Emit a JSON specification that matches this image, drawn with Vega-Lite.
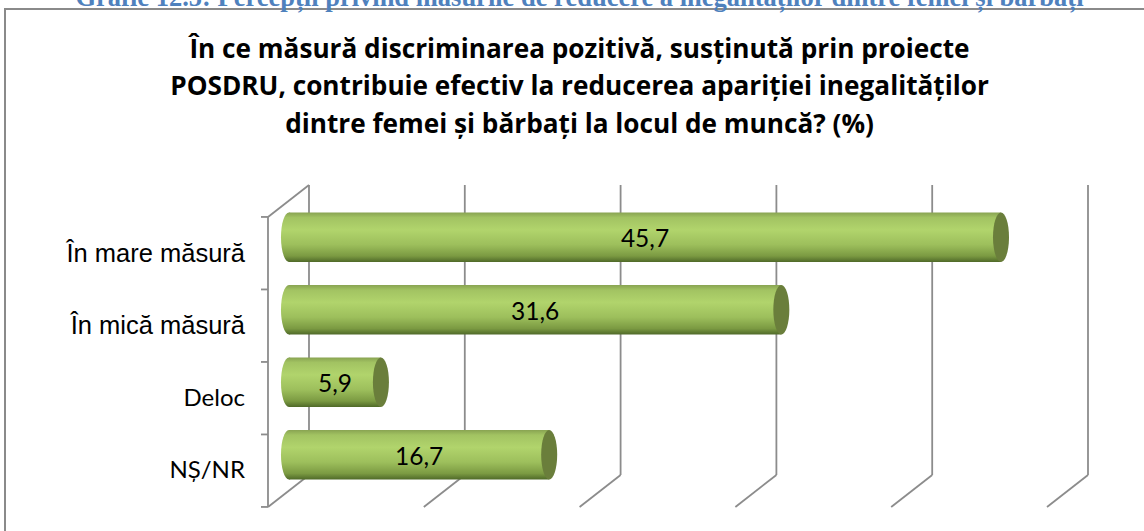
{
  "$schema": "https://vega.github.io/schema/vega-lite/v6.json",
  "width": 1149,
  "height": 532,
  "autosize": {"type": "none"},
  "padding": {"left": 5, "top": 9, "right": -10, "bottom": -10},
  "background": "white",
  "config": {
    "view": {"stroke": "#8a8a8a", "strokeWidth": 2},
    "locale": {"number": {"decimal": ",", "thousands": ".", "grouping": [3], "currency": ["", ""]}}
  },
  "title": {
    "text": "Grafic 12.5: Percepții privind măsurile de reducere a inegalităților dintre femei și bărbați",
    "subtitle": [
      "În ce măsură discriminarea pozitivă, susținută  prin proiecte",
      "POSDRU, contribuie efectiv la reducerea apariției inegalităților",
      "dintre femei și bărbați la locul de muncă? (%)"
    ],
    "anchor": "middle",
    "frame": "group",
    "font": "Liberation Serif",
    "fontSize": 26.5,
    "fontWeight": "bold",
    "color": "#4F81BD",
    "subtitleFont": "Open Sans",
    "subtitleFontSize": 26.2,
    "subtitleFontWeight": "bold",
    "subtitleColor": "#000000",
    "subtitleLineHeight": 37.5,
    "subtitlePadding": 25,
    "offset": -129
  },
  "datasets": {
    "answers": [
      {"raspuns": "În mare măsură", "procent": 45.7},
      {"raspuns": "În mică măsură", "procent": 31.6},
      {"raspuns": "Deloc", "procent": 5.9},
      {"raspuns": "NȘ/NR", "procent": 16.7}
    ],
    "grid": [{"v": 0}, {"v": 10}, {"v": 20}, {"v": 30}, {"v": 40}, {"v": 50}]
  },
  "layer": [
    {
      "data": {"name": "grid"},
      "mark": {"type": "rule", "color": "#8c8c8c", "strokeWidth": 1.8, "xOffset": 20, "yOffset": -52.3, "y2Offset": 20.2},
      "encoding": {
        "x": {"field": "v", "type": "quantitative", "axis": null,
              "scale": {"domain": [-18.228, 55.52], "nice": false, "zero": false}},
        "y": {"datum": "În mare măsură", "type": "nominal", "axis": null},
        "y2": {"datum": "NȘ/NR"}
      }
    },
    {
      "data": {"name": "grid"},
      "mark": {"type": "rule", "color": "#8c8c8c", "strokeWidth": 1.8, "xOffset": 20, "x2Offset": -21, "yOffset": 20.2, "y2Offset": 52.2},
      "encoding": {
        "x": {"field": "v", "type": "quantitative", "axis": null},
        "x2": {"field": "v"},
        "y": {"datum": "NȘ/NR", "type": "nominal", "axis": null},
        "y2": {"datum": "NȘ/NR"}
      }
    },
    {
      "data": {"values": [{}]},
      "mark": {"type": "rule", "color": "#8c8c8c", "strokeWidth": 1.8, "xOffset": -21, "yOffset": -20.3, "y2Offset": 52.2},
      "encoding": {
        "x": {"datum": 0, "type": "quantitative", "axis": null},
        "y": {"datum": "În mare măsură", "type": "nominal", "axis": null},
        "y2": {"datum": "NȘ/NR"}
      }
    },
    {
      "data": {"values": [{}]},
      "mark": {"type": "rule", "color": "#8c8c8c", "strokeWidth": 1.8, "xOffset": -21, "x2Offset": 20, "yOffset": -20.3, "y2Offset": -52.3},
      "encoding": {
        "x": {"datum": 0, "type": "quantitative", "axis": null},
        "x2": {"datum": 0},
        "y": {"datum": "În mare măsură", "type": "nominal", "axis": null},
        "y2": {"datum": "În mare măsură"}
      }
    },
    {
      "data": {"name": "answers"},
      "mark": {"type": "rule", "color": "#8c8c8c", "strokeWidth": 1.8, "xOffset": -28, "x2Offset": -21, "yOffset": -20.3},
      "encoding": {
        "x": {"datum": 0, "type": "quantitative", "axis": null},
        "x2": {"datum": 0},
        "y": {"field": "raspuns", "type": "nominal", "axis": null}
      }
    },
    {
      "data": {"values": [{}]},
      "mark": {"type": "rule", "color": "#8c8c8c", "strokeWidth": 1.8, "xOffset": -28, "x2Offset": -21, "yOffset": 52.2},
      "encoding": {
        "x": {"datum": 0, "type": "quantitative", "axis": null},
        "x2": {"datum": 0},
        "y": {"datum": "NȘ/NR", "type": "nominal", "axis": null}
      }
    },
    {
      "data": {"name": "answers"},
      "transform": [{"filter": "indexof(datum.raspuns, 'măsură') >= 0"}],
      "mark": {"type": "text", "font": "Liberation Sans", "fontSize": 25.5, "color": "#000000", "align": "right", "baseline": "middle", "xOffset": -44, "yOffset": 16.5},
      "encoding": {
        "x": {"datum": 0, "type": "quantitative", "axis": null},
        "y": {"field": "raspuns", "type": "nominal", "axis": null},
        "text": {"field": "raspuns", "type": "nominal"}
      }
    },
    {
      "data": {"name": "answers"},
      "transform": [{"filter": "indexof(datum.raspuns, 'măsură') < 0"}],
      "mark": {"type": "text", "font": "Lato", "fontSize": 24, "color": "#000000", "align": "right", "baseline": "middle", "xOffset": -44, "yOffset": 16.5},
      "encoding": {
        "x": {"datum": 0, "type": "quantitative", "axis": null},
        "y": {"field": "raspuns", "type": "nominal", "axis": null},
        "text": {"field": "raspuns", "type": "nominal"}
      }
    },
    {
      "data": {"name": "answers"},
      "mark": {
        "type": "point", "filled": true, "opacity": 1, "strokeWidth": 0, "size": 2430,
        "shape": "M 0 -1 C 0.1795 -1 0.325 -0.5523 0.325 0 C 0.325 0.5523 0.1795 1 0 1 C -0.1795 1 -0.325 0.5523 -0.325 0 C -0.325 -0.5523 -0.1795 -1 0 -1 Z",
        "fill": {"gradient": "linear", "x1": 0, "y1": 0, "x2": 0, "y2": 1,
                 "stops": [
                   {"offset": 0, "color": "#89A452"},
                   {"offset": 0.1, "color": "#A2C362"},
                   {"offset": 0.35, "color": "#B1D46C"},
                   {"offset": 0.65, "color": "#9DBF5C"},
                   {"offset": 0.88, "color": "#7B9A42"},
                   {"offset": 1, "color": "#506A29"}
                 ]}
      },
      "encoding": {
        "x": {"datum": 0, "type": "quantitative", "axis": null},
        "y": {"field": "raspuns", "type": "nominal", "axis": null}
      }
    },
    {
      "data": {"name": "answers"},
      "mark": {
        "type": "bar",
        "fill": {"gradient": "linear", "x1": 0, "y1": 0, "x2": 0, "y2": 1,
                 "stops": [
                   {"offset": 0, "color": "#89A452"},
                   {"offset": 0.1, "color": "#A2C362"},
                   {"offset": 0.35, "color": "#B1D46C"},
                   {"offset": 0.65, "color": "#9DBF5C"},
                   {"offset": 0.88, "color": "#7B9A42"},
                   {"offset": 1, "color": "#506A29"}
                 ]}
      },
      "encoding": {
        "x": {"field": "procent", "type": "quantitative", "axis": null},
        "y": {
          "field": "raspuns", "type": "nominal", "sort": null, "axis": null,
          "scale": {
            "domain": ["În mare măsură", "În mică măsură", "Deloc", "NȘ/NR"],
            "range": [192, 482],
            "paddingInner": 0.32, "paddingOuter": 0.16, "round": false
          }
        }
      }
    },
    {
      "data": {"name": "answers"},
      "mark": {
        "type": "point", "filled": true, "opacity": 1, "strokeWidth": 0, "size": 2430, "fill": "#6A7E3B",
        "shape": "M 0 -1 C 0.1795 -1 0.325 -0.5523 0.325 0 C 0.325 0.5523 0.1795 1 0 1 C -0.1795 1 -0.325 0.5523 -0.325 0 C -0.325 -0.5523 -0.1795 -1 0 -1 Z"
      },
      "encoding": {
        "x": {"field": "procent", "type": "quantitative", "axis": null},
        "y": {"field": "raspuns", "type": "nominal", "axis": null}
      }
    },
    {
      "data": {"name": "answers"},
      "mark": {"type": "text", "font": "Lato", "fontSize": 24.5, "color": "#000000", "align": "center", "baseline": "middle", "dy": 3},
      "encoding": {
        "x": {"field": "procent", "type": "quantitative", "stack": "zero", "bandPosition": 0.5, "axis": null},
        "y": {"field": "raspuns", "type": "nominal", "axis": null},
        "text": {"field": "procent", "type": "quantitative", "format": ".1f"}
      }
    }
  ]
}
